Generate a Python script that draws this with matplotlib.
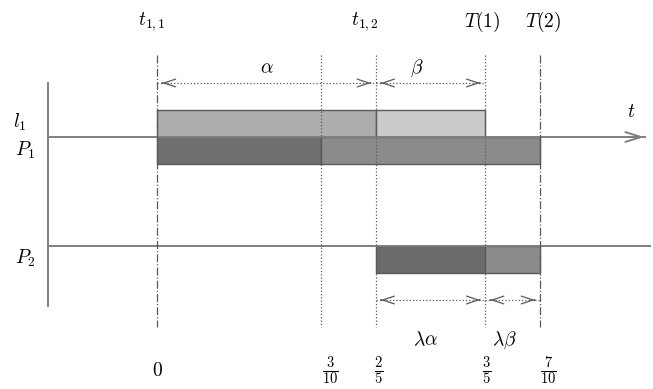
import matplotlib.pyplot as plt

plt.rcParams['mathtext.fontset'] = 'cm'
plt.rcParams['font.family'] = 'serif'

# instantes de tiempo y segmentos de cada fila
marks = [0, 0.3, 0.4, 0.6, 0.7]
mark_styles = ['-.', ':', ':', ':', '-.']
l1_segments = [(0, 0.4), (0.4, 0.6)]
l1_colors = ['#adadad', '#cacaca']
p1_segments = [(0, 0.3), (0.3, 0.7)]
p1_colors = ['#6f6f6f', '#8b8b8b']
p2_segments = [(0.4, 0.6), (0.6, 0.7)]
p2_colors = ['#6b6b6b', '#8b8b8b']
top_labels = [r'$t_{1,1}$', r'$t_{1,2}$', r'$T(1)$', r'$T(2)$']
top_label_x = [0, 0.4, 0.6, 0.7]
bottom_labels = [r'$0$', r'$\frac{3}{10}$', r'$\frac{2}{5}$', r'$\frac{3}{5}$', r'$\frac{7}{10}$']
upper_spans = [(0, 0.4, r'$\alpha$'), (0.4, 0.6, r'$\beta$')]
lower_spans = [(0.4, 0.6, r'$\lambda\alpha$'), (0.6, 0.7, r'$\lambda\beta$')]

px = 547.0  # pixeles por unidad de tiempo
x0 = 157.0
py = 109.0
fig = plt.figure(figsize=(6.53, 3.89), dpi=100)
ax = fig.add_axes([0, 0, 1, 1])
ax.set_xlim(-x0 / px, (653 - x0) / px)
ax.set_ylim((246 - 389) / py, 246 / py)
ax.axis('off')

def yp(p):
    # convierte pixel vertical a unidades del eje
    return (246 - p) / py

def xp(p):
    return (p - x0) / px

gray = '#7f7f7f'
dark = '#5a5a5a'
h = 27 / py
fs = 14

# ejes
ax.plot([xp(48), xp(48)], [yp(83), yp(306)], color=gray, lw=1.4)
ax.plot([xp(48), xp(645)], [1, 1], color=gray, lw=1.4)
ax.annotate('', xy=(xp(647), 1), xytext=(xp(625), 1),
            arrowprops=dict(arrowstyle='->,head_length=0.7,head_width=0.22', color=gray, lw=1.4,
                            mutation_scale=16))
ax.plot([xp(48), xp(650)], [0, 0], color=gray, lw=1.4)

# lineas verticales
for m, ls in zip(marks, mark_styles):
    ax.plot([m, m], [yp(55), yp(327)], color=dark, lw=0.9, ls=ls, zorder=3)

# barras
for (a, b), c in zip(l1_segments, l1_colors):
    ax.bar(a, h, width=b - a, bottom=1, align='edge', color=c, edgecolor=dark, lw=1.0)
for (a, b), c in zip(p1_segments, p1_colors):
    ax.bar(a, h, width=b - a, bottom=1 - h, align='edge', color=c, edgecolor=dark, lw=1.0)
for (a, b), c in zip(p2_segments, p2_colors):
    ax.bar(a, h, width=b - a, bottom=-h, align='edge', color=c, edgecolor=dark, lw=1.0)

def span_arrow(a, b, y):
    ax.plot([a, b], [y, y], color=dark, lw=0.9, ls=':')
    d = 0.015
    style = '->,head_length=0.6,head_width=0.2'
    ax.annotate('', xy=(a + 0.004, y), xytext=(a + d, y),
                arrowprops=dict(arrowstyle=style, color=dark, lw=0.9, mutation_scale=14))
    ax.annotate('', xy=(b - 0.004, y), xytext=(b - d, y),
                arrowprops=dict(arrowstyle=style, color=dark, lw=0.9, mutation_scale=14))

upper_offsets = [0, -0.025]
for (a, b, lab), off in zip(upper_spans, upper_offsets):
    span_arrow(a, b, yp(83))
    ax.text((a + b) / 2 + off, yp(68), lab, ha='center', va='center', fontsize=fs)
lower_offsets = [-0.01, -0.014]
for (a, b, lab), off in zip(lower_spans, lower_offsets):
    span_arrow(a, b, yp(300))
    ax.text((a + b) / 2 + off, yp(340), lab, ha='center', va='center', fontsize=fs)

# etiquetas
top_offsets = [-0.009, -0.02, -0.006, 0.006]
for x, lab, off in zip(top_label_x, top_labels, top_offsets):
    ax.text(x + off, yp(22), lab, ha='center', va='center', fontsize=fs)
bottom_offsets = [0, 0.016, 0.006, 0.003, 0.015]
for m, lab, off in zip(marks, bottom_labels, bottom_offsets):
    size = fs if m == 0 else 15
    ax.text(m + off, yp(371), lab, ha='center', va='center', fontsize=size)

ax.text(xp(13), yp(122), r'$l_1$', ha='left', va='center', fontsize=fs)
ax.text(xp(15), yp(150), r'$P_1$', ha='left', va='center', fontsize=fs)
ax.text(xp(15), yp(258), r'$P_2$', ha='left', va='center', fontsize=fs)
ax.text(xp(631), yp(112), r'$t$', ha='center', va='center', fontsize=fs)

fig.savefig('out.png', dpi=100)
